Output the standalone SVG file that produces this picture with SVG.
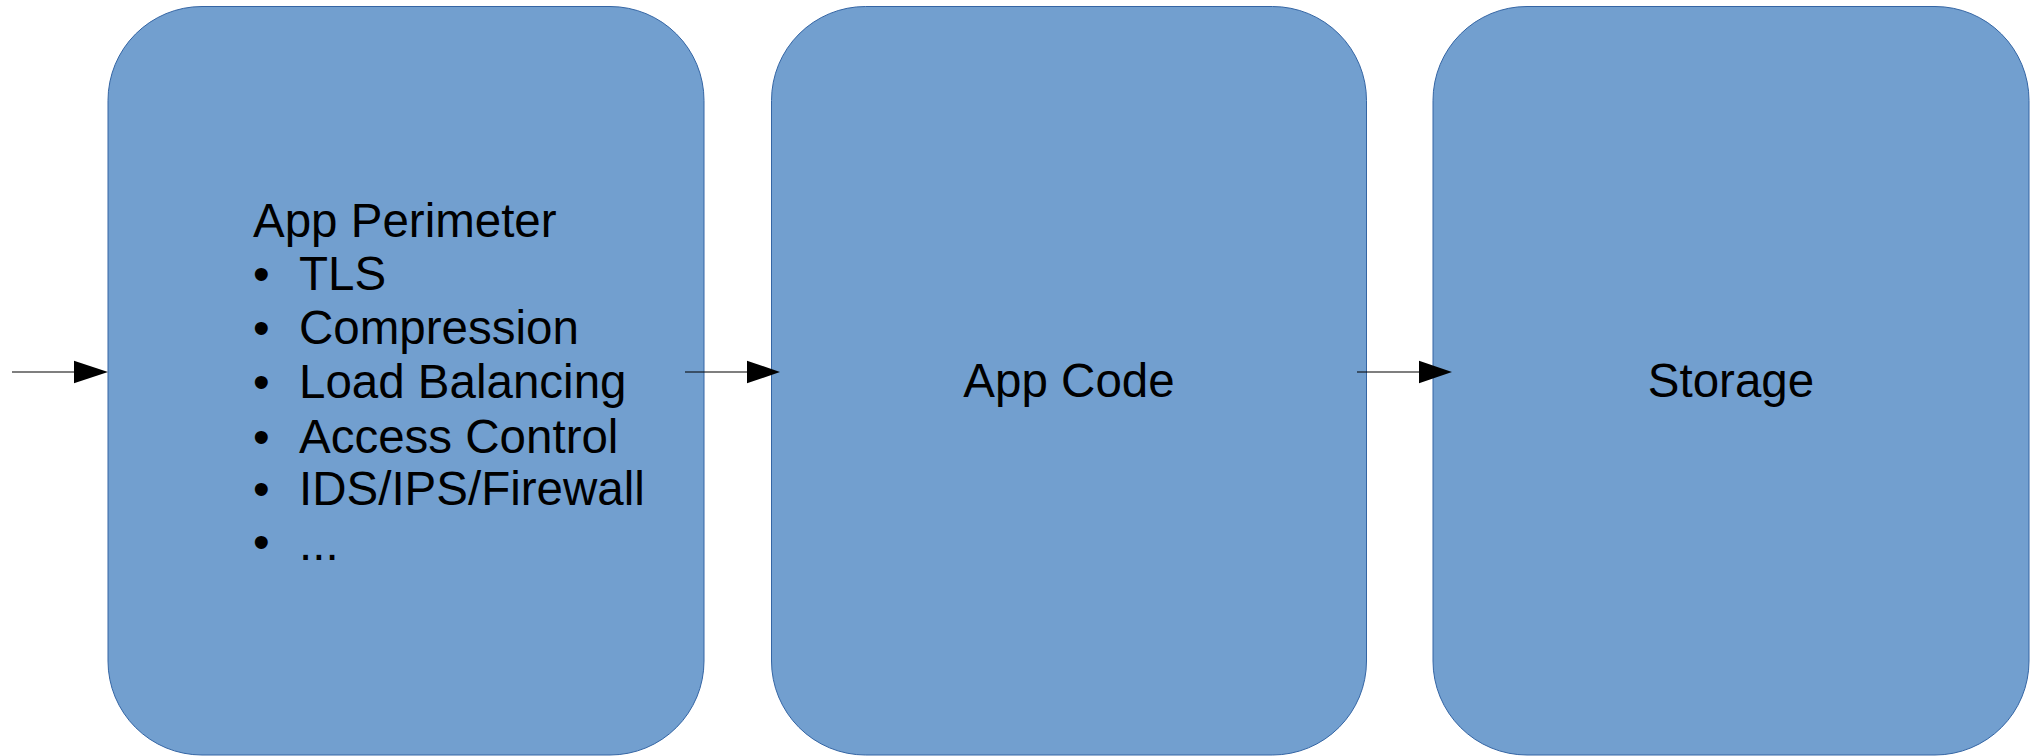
<svg xmlns="http://www.w3.org/2000/svg" width="2033" height="756" viewBox="0 0 2033 756">
  <style>
    .box { fill: #729fcf; stroke: #3465a4; stroke-width: 1; }
    .t { font-family: "Liberation Sans", Arial, sans-serif; font-size: 47.5px; fill: #000000; }
    .c { text-anchor: middle; }
    .ln { stroke: #000000; stroke-width: 1.2; fill: none; }
    .hd { fill: #000000; }
  </style>
  <rect width="2033" height="756" fill="#ffffff"/>
  <g id="node-perimeter">
    <rect class="box" x="108" y="6.5" width="596" height="748.5" rx="94" ry="94"/>
    <text class="t" x="253" y="237">App Perimeter</text>
    <text class="t" x="253" y="290">•</text><text class="t" x="299" y="290">TLS</text>
    <text class="t" x="253" y="344">•</text><text class="t" x="299" y="344">Compression</text>
    <text class="t" x="253" y="398">•</text><text class="t" x="299" y="398">Load Balancing</text>
    <text class="t" x="253" y="452.5">•</text><text class="t" x="299" y="452.5">Access Control</text>
    <text class="t" x="253" y="505">•</text><text class="t" x="299" y="505">IDS/IPS/Firewall</text>
    <text class="t" x="253" y="558">•</text><text class="t" x="299" y="560">...</text>
  </g>
  <g id="node-appcode">
    <rect class="box" x="771.5" y="6.5" width="595" height="748.5" rx="94" ry="94"/>
    <text class="t c" x="1069" y="397">App Code</text>
  </g>
  <g id="node-storage">
    <rect class="box" x="1433" y="6.5" width="596" height="748.5" rx="94" ry="94"/>
    <text class="t c" x="1731" y="397">Storage</text>
  </g>
  <g id="connectors">
    <line class="ln" x1="12" y1="372" x2="75" y2="372"/>
    <polygon class="hd" points="74,360.7 108,372 74,383.3"/>
    <line class="ln" x1="685" y1="372" x2="748" y2="372"/>
    <polygon class="hd" points="747,360.7 780,372 747,383.3"/>
    <line class="ln" x1="1357" y1="372" x2="1420" y2="372"/>
    <polygon class="hd" points="1419,360.7 1452,372 1419,383.3"/>
  </g>
</svg>
